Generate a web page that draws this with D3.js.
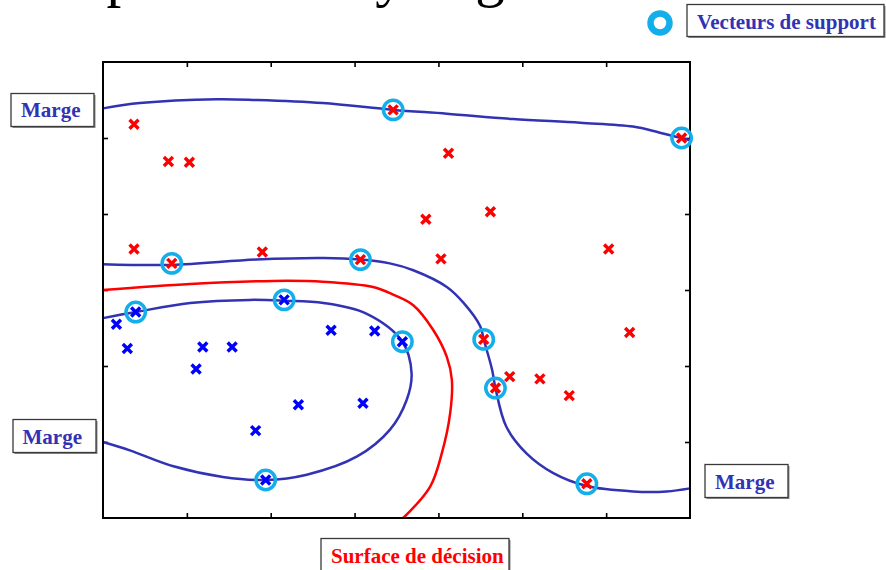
<!DOCTYPE html>
<html>
<head>
<meta charset="utf-8">
<script src="https://cdn.jsdelivr.net/npm/d3@7"></script>
<style>
    body { margin: 0; background: #fff; }
    svg { display: block; }
    .lbl { font-family: "Liberation Serif", "Times New Roman", serif; font-weight: bold; font-size: 21px; }
</style>
</head>
<body>
<div id="chart"></div>
<script>
// data (x in 0..7, y in 0..6)
const redX = [0.37, 0.78, 1.03, 0.37, 0.82, 1.90, 3.07, 3.46, 6.90, 4.12, 3.85,
              4.62, 4.03, 6.03, 4.54, 4.68, 4.85, 5.21, 5.56, 5.77, 6.28];
const redY = [5.18, 4.69, 4.68, 3.54, 3.35, 3.50, 3.40, 5.37, 5.00, 4.80, 3.93,
              4.03, 3.41, 3.54, 2.35, 1.71, 1.86, 1.83, 1.61, 0.45, 2.44];
const redSV = [0, 0, 0, 0, 1, 0, 1, 1, 1, 0, 0, 0, 0, 0, 1, 1, 0, 0, 0, 1, 0];

const blueX = [0.39, 0.16, 0.29, 1.19, 1.54, 1.11, 2.16, 2.72, 3.24, 3.57, 2.33, 3.10, 1.82, 1.94];
const blueY = [2.71, 2.55, 2.23, 2.25, 2.25, 1.96, 2.87, 2.47, 2.46, 2.32, 1.49, 1.51, 1.15, 0.50];
const blueSV = [1, 0, 0, 0, 0, 0, 1, 0, 0, 1, 0, 0, 0, 1];

// margin and decision curves
const margeHaut = [[0, 5.39], [0.44, 5.46], [1.36, 5.51], [1.83, 5.50], [2.62, 5.46], [3.46, 5.37],
                   [4.10, 5.32], [4.89, 5.25], [5.69, 5.20], [6.32, 5.15], [6.64, 5.07], [6.90, 5.00], [7, 4.97]];
const margeMilieu = [[0, 3.34], [0.82, 3.33], [1.83, 3.40], [2.63, 3.42], [3.07, 3.40], [3.42, 3.35],
                     [3.70, 3.26], [4.10, 3.04], [4.30, 2.83], [4.50, 2.52], [4.54, 2.35], [4.64, 1.95],
                     [4.68, 1.71], [4.81, 1.20], [5.05, 0.85], [5.37, 0.59], [5.77, 0.42], [6.32, 0.35],
                     [6.72, 0.35], [7, 0.39]];
const margeBas = [[0, 2.63], [0.39, 2.71], [1.04, 2.83], [1.75, 2.87], [2.16, 2.86], [2.63, 2.83],
                  [3.14, 2.69], [3.57, 2.32], [3.68, 1.90], [3.62, 1.55], [3.42, 1.16], [3.03, 0.81],
                  [2.43, 0.57], [1.94, 0.50], [1.43, 0.54], [0.84, 0.68], [0.32, 0.89], [0, 1.00]];
const decision = [[0, 3.00], [1.04, 3.08], [2.03, 3.12], [2.62, 3.11], [3.22, 3.04], [3.46, 2.94],
                  [3.70, 2.80], [3.94, 2.47], [4.10, 2.12], [4.16, 1.82], [4.14, 1.38], [4.04, 0.85],
                  [3.90, 0.41], [3.58, 0]];

const xTicks = [1, 2, 3, 4, 5, 6];
const yTicks = [1, 2, 3, 4, 5];

// colours
const cRed = "#ff0000", cBlue = "#0000ff", cMarge = "#3232b4", cSV = "#14aeea";

const W = 886, H = 570;
const svg = d3.select("#chart").append("svg")
    .attr("width", W)
    .attr("height", H);

// title (cut off at the top, only descenders show)
svg.append("text")
    .text("Exemple avec noyau gaussien")
    .attr("x", -31)
    .attr("y", -5)
    .style("font-family", "'Liberation Serif', 'Times New Roman', serif")
    .style("font-size", "59px")
    .attr("fill", "#000");

// scales
const x = d3.scaleLinear().domain([0, 7]).range([103, 690]);
const y = d3.scaleLinear().domain([0, 6]).range([518, 62]);

// axes with inward ticks, no labels
function tickAxis(axis, tx, ty) {
    const g = svg.append("g")
        .attr("transform", "translate(" + tx + "," + ty + ")")
        .call(axis.tickSizeInner(-5).tickSizeOuter(0).tickFormat(""));
    g.select(".domain").remove();
    g.selectAll("line").attr("stroke", "#000").attr("stroke-width", 1.6);
}
tickAxis(d3.axisBottom(x).tickValues(xTicks), 0, 518);
tickAxis(d3.axisTop(x).tickValues(xTicks), 0, 62);
tickAxis(d3.axisLeft(y).tickValues(yTicks), 103, 0);
tickAxis(d3.axisRight(y).tickValues(yTicks), 690, 0);

// curves
const line = d3.line()
    .x(d => x(d[0]))
    .y(d => y(d[1]))
    .curve(d3.curveCatmullRom.alpha(0.5));

const plot = svg.append("g");
[margeHaut, margeMilieu, margeBas].forEach(c => {
    plot.append("path")
        .datum(c)
        .attr("d", line)
        .attr("fill", "none")
        .attr("stroke", cMarge)
        .attr("stroke-width", 2.5);
});
plot.append("path")
    .datum(decision)
    .attr("d", line)
    .attr("fill", "none")
    .attr("stroke", cRed)
    .attr("stroke-width", 2.5);

// frame
svg.append("rect")
    .attr("x", x(0))
    .attr("y", y(6))
    .attr("width", x(7) - x(0))
    .attr("height", y(0) - y(6))
    .attr("fill", "none")
    .attr("stroke", "#000")
    .attr("stroke-width", 2);

// points
const reds = redX.map((v, i) => ({x: v, y: redY[i], sv: redSV[i], c: cRed}));
const blues = blueX.map((v, i) => ({x: v, y: blueY[i], sv: blueSV[i], c: cBlue}));
const pts = reds.concat(blues);

const s = 4.5;
const marks = svg.append("g").selectAll("g")
    .data(pts)
    .enter()
    .append("g")
    .attr("transform", d => "translate(" + x(d.x) + "," + y(d.y) + ")");
marks.append("path")
    .attr("d", "M" + (-s) + "," + (-s) + "L" + s + "," + s + "M" + (-s) + "," + s + "L" + s + "," + (-s))
    .attr("stroke", d => d.c)
    .attr("stroke-width", 3.4)
    .attr("fill", "none");

// support vectors
svg.append("g").selectAll("circle")
    .data(pts.filter(d => d.sv))
    .enter()
    .append("circle")
    .attr("cx", d => x(d.x))
    .attr("cy", d => y(d.y))
    .attr("r", 9.7)
    .attr("fill", "none")
    .attr("stroke", cSV)
    .attr("stroke-width", 3.5);

// label boxes
function labelBox(txt, bx, by, bw, bh, tx, ty, color) {
    const g = svg.append("g");
    g.append("rect")
        .attr("x", bx + 1.5).attr("y", by + 1.5)
        .attr("width", bw).attr("height", bh)
        .attr("fill", "#8a8a8a");
    g.append("rect")
        .attr("x", bx).attr("y", by)
        .attr("width", bw).attr("height", bh)
        .attr("fill", "#fff")
        .attr("stroke", "#3a3a3a")
        .attr("stroke-width", 1.3);
    g.append("text")
        .attr("class", "lbl")
        .attr("x", tx).attr("y", ty)
        .attr("fill", color)
        .text(txt);
}
labelBox("Marge", 11, 93.5, 83, 33, 21, 117, cMarge);
labelBox("Marge", 13, 419.5, 83, 33, 22.5, 444, cMarge);
labelBox("Marge", 705, 464.5, 83, 33, 715, 489, cMarge);
labelBox("Vecteurs de support", 687, 4.5, 197, 32, 697, 29, cMarge);
labelBox("Surface de décision", 321, 538.5, 188, 40, 331, 563, cRed);

// legend symbol
svg.append("circle")
    .attr("cx", 660)
    .attr("cy", 23)
    .attr("r", 9.5)
    .attr("fill", "none")
    .attr("stroke", cSV)
    .attr("stroke-width", 6.5);
</script>
</body>
</html>
